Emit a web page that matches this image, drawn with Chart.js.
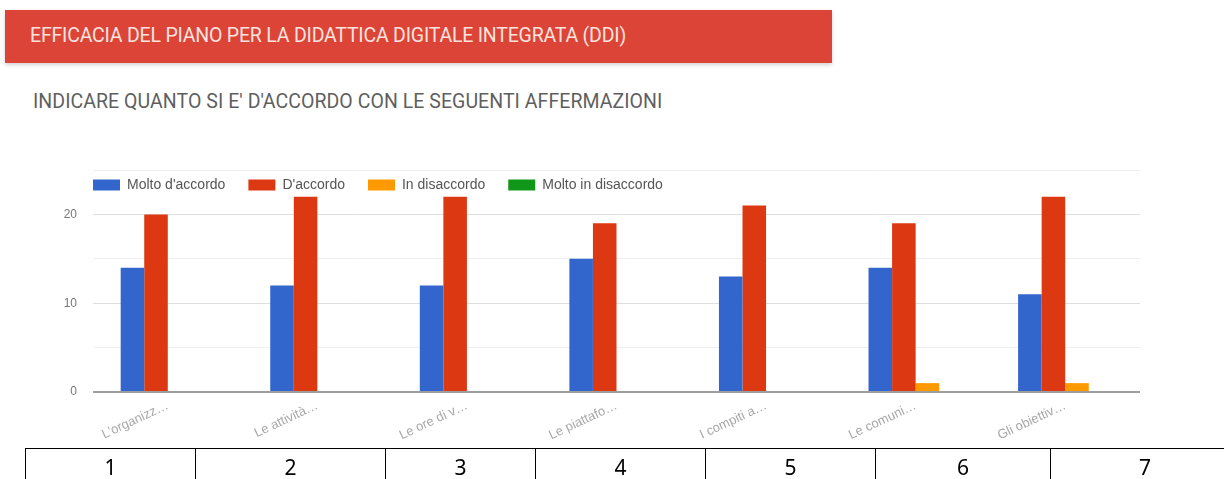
<!DOCTYPE html>
<html>
<head>
<meta charset="utf-8">
<script src="https://cdn.jsdelivr.net/npm/chart.js@4.4.1/dist/chart.umd.min.js"></script>
<style>
  body { margin: 0; width: 1224px; height: 479px; background: #fff; position: relative; overflow: hidden; font-family: Roboto, "Liberation Sans", sans-serif; }
  .header { position: absolute; left: 5px; top: 10px; width: 827px; height: 53px; background: #db4437; box-shadow: 0 2px 4px rgba(0,0,0,0.18); }
  .header span { position: absolute; left: 25px; top: 14px; color: #fbe3df; font-size: 19.5px; letter-spacing: -0.2px; white-space: nowrap; }
  .subtitle { position: absolute; left: 33px; top: 90px; color: #5f5f5f; font-size: 19.5px; letter-spacing: 0.05px; white-space: nowrap; }
  #chartBox { position: absolute; left: 0; top: 123px; width: 1224px; height: 327px; }
  table { position: absolute; left: 25px; top: 448px; width: 1207px; table-layout: fixed; border-collapse: collapse; font-family: "Noto Sans", "Open Sans", sans-serif; font-size: 21px; }
  td { border: 1px solid #000; border-bottom: none; height: 36px; text-align: center; vertical-align: top; padding: 0; line-height: 36px; }
</style>
</head>
<body>
<div class="header"><span>EFFICACIA DEL PIANO PER LA DIDATTICA DIGITALE INTEGRATA (DDI)</span></div>
<div class="subtitle">INDICARE QUANTO SI E' D'ACCORDO CON LE SEGUENTI AFFERMAZIONI</div>
<div id="chartBox"><canvas id="ddiChart"></canvas></div>
<table><tr id="numRow"></tr></table>
<script>
//Chart data
const categories = ["L'organizz…", "Le attività…", "Le ore di v…", "Le piattafo…", "I compiti a…", "Le comuni…", "Gli obiettiv…"];
const moltoAccordo = [14, 12, 12, 15, 13, 14, 11];
const accordo = [20, 22, 22, 19, 21, 19, 22];
const disaccordo = [0, 0, 0, 0, 0, 1, 1];
const moltoDisaccordo = [0, 0, 0, 0, 0, 0, 0];
const yTickLabels = [0, 10, 20];

//Table cell widths under the chart
const cellWidths = [169, 189, 149, 169, 169, 174, 188];
const row = document.getElementById("numRow");
categories.forEach((c, i) => {
    const td = document.createElement("td");
    td.style.width = cellWidths[i] + "px";
    td.textContent = i + 1;
    row.appendChild(td);
});

//Move the legend down into the plot like the google chart
const legendShift = {
    id: "legendShift",
    afterLayout(chart) {
        const lg = chart.legend;
        lg.top += 32; lg.bottom += 32;
        lg.left += 70; lg.right += 70;
    }
};

const ctx = document.getElementById("ddiChart").getContext("2d");
new Chart(ctx, {
    type: "bar",
    data: {
        labels: categories,
        datasets: [
            {label: "Molto d'accordo", data: moltoAccordo, backgroundColor: "#3366cc"},
            {label: "D'accordo", data: accordo, backgroundColor: "#dc3912"},
            {label: "In disaccordo", data: disaccordo, backgroundColor: "#ff9900"},
            {label: "Molto in disaccordo", data: moltoDisaccordo, backgroundColor: "#109618"}
        ]
    },
    options: {
        responsive: true,
        maintainAspectRatio: false,
        animation: false,
        layout: {padding: {left: 0, right: 84, top: 0, bottom: 0}},
        datasets: {bar: {barPercentage: 1, categoryPercentage: 0.63}},
        plugins: {
            tooltip: {enabled: false},
            legend: {
                position: "top",
                align: "start",
                labels: {
                    boxWidth: 27,
                    boxHeight: 11,
                    padding: 23,
                    color: "#555",
                    font: {family: "'Liberation Sans', Arial", size: 14}
                }
            }
        },
        scales: {
            x: {
                grid: {display: false},
                border: {display: false},
                ticks: {
                    color: "#a8a8a8",
                    font: {family: "'Liberation Sans', Arial", size: 13},
                    minRotation: 25,
                    maxRotation: 25,
                    autoSkip: false,
                    padding: -2
                },
                afterFit(scale) { scale.height = 58; }
            },
            y: {
                min: 0,
                max: 25,
                border: {display: false},
                grid: {
                    drawTicks: false,
                    color: c => c.tick.value === 0 ? "#9e9e9e" : (c.tick.value % 10 === 0 ? "#dedede" : "#efefef"),
                    lineWidth: c => c.tick.value === 0 ? 2 : 1
                },
                ticks: {
                    stepSize: 5,
                    padding: 16,
                    color: "#777",
                    font: {family: "'Liberation Sans', Arial", size: 12},
                    callback: v => yTickLabels.includes(v) ? v : ""
                },
                afterFit(scale) { scale.width = 93; }
            }
        }
    },
    plugins: [legendShift]
});
</script>
</body>
</html>
